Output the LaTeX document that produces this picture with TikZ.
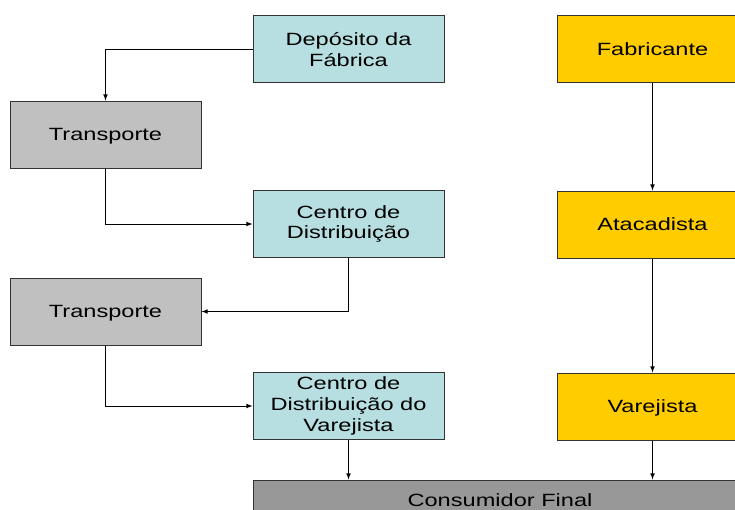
\documentclass[tikz,border=0pt]{standalone}
\usepackage{fontspec}
\setmainfont[FakeStretch=1.33]{Liberation Sans}
\usepackage{tikz}
\usetikzlibrary{arrows, positioning}

\definecolor{cdcyan}{HTML}{B7DEE0}
\definecolor{trgray}{HTML}{C0C0C0}
\definecolor{fabyellow}{HTML}{FFCC00}
\definecolor{consgray}{HTML}{989898}
\definecolor{edgegray}{HTML}{333333}

\tikzset{
  caixa/.style={draw=edgegray, line width=0.75pt, minimum width=143.25pt, minimum height=50.25pt,
    align=center, inner sep=0pt, font=\fontsize{13.3}{15.5}\selectfont},
  deposito/.style={caixa, fill=cdcyan},
  transp/.style={caixa, fill=trgray, text depth=0pt},
  cadeia/.style={caixa, fill=fabyellow, text depth=0pt},
  seta/.style={->, >=latex, draw=black, line width=0.6pt}
}

\begin{document}
\begin{tikzpicture}[x=0.75pt, y=-0.75pt]
\useasboundingbox (0,0) rectangle (735,510);
\clip (0,0) rectangle (735,510);
\fill [white] (0,0) rectangle (735,510);

% left column
\node [deposito] (dep) at (348.5,49.5) {Depósito da\\Fábrica};
\node [transp] (tr1) at (105.5,134.5) {Transporte};
\node [deposito] (cd) at (348.5,224) {Centro de\\Distribuição};
\node [transp] (tr2) at (105.5,311.5) {Transporte};
\node [deposito] (cdv) at (348.5,406) {Centro de\\Distribuição do\\Varejista};

% right column
\node [cadeia] (fab) at (652.5,49.5) {Fabricante};
\node [cadeia] (ata) at (652.5,224.5) {Atacadista};
\node [cadeia] (var) at (652.5,406.5) {Varejista};

\node [caixa, fill=consgray, minimum width=494pt*0.75, minimum height=40pt*0.75] (cons) at (500,500) {Consumidor Final};

\draw [seta] (dep.west) -| (tr1.north);
\draw [seta] (tr1.south) |- (cd.west);
\draw [seta] (cd.south) |- (tr2.east);
\draw [seta] (tr2.south) |- (cdv.west);
\draw [seta] (cdv.south) -- (cdv.south |- cons.north);

\draw [seta] (fab) -- (ata);
\draw [seta] (ata) -- (var);
\draw [seta] (var.south) -- (var.south |- cons.north);
\end{tikzpicture}
\end{document}
